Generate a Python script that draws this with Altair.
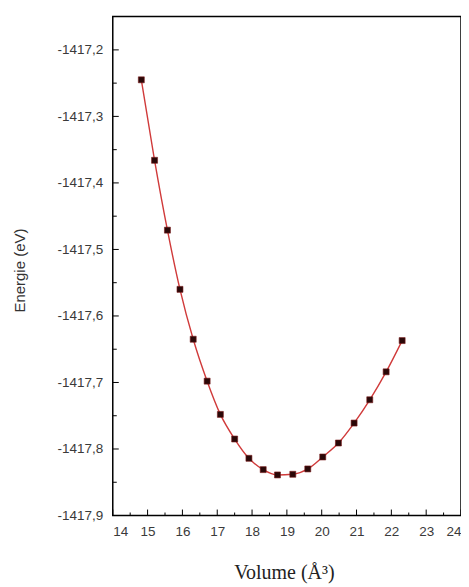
import altair as alt
import pandas as pd

volume = [14.82, 15.20, 15.57, 15.93, 16.31, 16.71, 17.09, 17.50, 17.91, 18.32,
          18.73, 19.17, 19.60, 20.03, 20.48, 20.93, 21.38, 21.85, 22.31]
energy = [-1417.245, -1417.366, -1417.471, -1417.560, -1417.635, -1417.698,
          -1417.748, -1417.785, -1417.814, -1417.831, -1417.839, -1417.838,
          -1417.830, -1417.812, -1417.791, -1417.761, -1417.726, -1417.684,
          -1417.637]

x_major = [14, 15, 16, 17, 18, 19, 20, 21, 22, 23, 24]
x_minor = [14.5, 15.5, 16.5, 17.5, 18.5, 19.5, 20.5, 21.5, 22.5, 23.5]
y_major = [-1417.9, -1417.8, -1417.7, -1417.6, -1417.5, -1417.4, -1417.3, -1417.2]
y_minor = [-1417.85, -1417.75, -1417.65, -1417.55, -1417.45, -1417.35, -1417.25]

W, H = 349, 500

df = pd.DataFrame({"Volume": volume, "Energie": energy})

xscale = alt.Scale(domain=[14, 24], nice=False, zero=False)
yscale = alt.Scale(domain=[-1417.9, -1417.15], nice=False, zero=False)

x_axis = alt.Axis(
    values=x_major, format="d", tickSize=0, domain=False, grid=False,
    labelPadding=9, labelFont="Liberation Sans", labelFontSize=13.5,
    labelColor="#3a3a3a", title="Volume (Å³)", titleFont="Liberation Serif",
    titleFontSize=20, titleFontWeight="normal", titleColor="#222",
    titleX=W / 2 - 3, titleY=57, titleBaseline="middle", titleAlign="center",
)
y_axis = alt.Axis(
    values=y_major, tickSize=0, domain=False, grid=False, labelPadding=10,
    labelExpr="'-' + replace(format(abs(datum.value), '.1f'), '.', ',')",
    labelFont="Liberation Sans", labelFontSize=13.5, labelColor="#3a3a3a",
    title="Energie (eV)", titleFont="Liberation Sans", titleFontSize=15,
    titleFontWeight="normal", titleColor="#333", titleAngle=270,
    titleX=-93, titleY=254, titleBaseline="middle", titleAlign="center",
)

line = alt.Chart(df).mark_line(
    color="#d03a3a", strokeWidth=1.4, interpolate="monotone"
).encode(
    x=alt.X("Volume:Q", scale=xscale, axis=x_axis),
    y=alt.Y("Energie:Q", scale=yscale, axis=y_axis),
)

points = alt.Chart(df).mark_square(
    size=36, color="#2a0808", opacity=1, stroke="#7a1a1a", strokeWidth=0.6
).encode(
    x=alt.X("Volume:Q", scale=xscale, axis=x_axis),
    y=alt.Y("Energie:Q", scale=yscale, axis=y_axis),
)

xmaj = alt.Chart(pd.DataFrame({"Volume": x_major})).mark_rule(color="black", strokeWidth=1).encode(
    x=alt.X("Volume:Q", scale=xscale, axis=x_axis), y=alt.value(H), y2=alt.value(H - 6))
xmin = alt.Chart(pd.DataFrame({"Volume": x_minor})).mark_rule(color="black", strokeWidth=1).encode(
    x=alt.X("Volume:Q", scale=xscale, axis=x_axis), y=alt.value(H), y2=alt.value(H - 3))
ymaj = alt.Chart(pd.DataFrame({"Energie": y_major})).mark_rule(color="black", strokeWidth=1).encode(
    y=alt.Y("Energie:Q", scale=yscale, axis=y_axis), x=alt.value(0), x2=alt.value(6))
ymin = alt.Chart(pd.DataFrame({"Energie": y_minor})).mark_rule(color="black", strokeWidth=1).encode(
    y=alt.Y("Energie:Q", scale=yscale, axis=y_axis), x=alt.value(0), x2=alt.value(4))

chart = alt.layer(line, points, xmaj, xmin, ymaj, ymin).properties(
    width=W, height=H,
    autosize=alt.AutoSizeParams(type="none"),
    padding={"left": 105, "top": 8, "right": 0, "bottom": 71},
    background="white",
).configure_view(stroke="black", strokeWidth=1.5)

chart.save("out.html", embed_options={"renderer": "svg", "actions": False})
